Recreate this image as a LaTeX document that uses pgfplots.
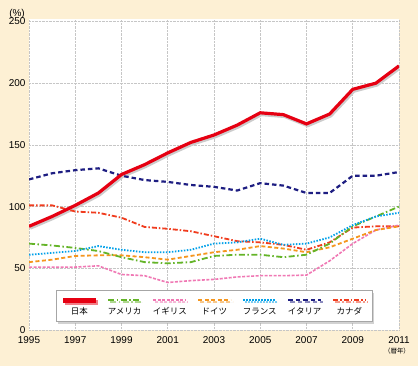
\documentclass[border=0pt]{standalone}
\usepackage{fontspec}
\setmainfont{Liberation Sans}
\newfontfamily\jp{Noto Sans CJK JP}
\usepackage{pgfplots}
\pgfplotsset{compat=1.18}
\usepackage{pgfplotstable}
\usetikzlibrary{shadows}

\definecolor{bgc}{RGB}{253,240,212}
\definecolor{jpc}{RGB}{230,0,18}
\definecolor{usc}{RGB}{100,180,40}
\definecolor{ukc}{RGB}{240,120,180}
\definecolor{dec}{RGB}{245,150,30}
\definecolor{frc}{RGB}{0,160,233}
\definecolor{itc}{RGB}{30,30,130}
\definecolor{cac}{RGB}{240,60,30}

\pgfplotstableread{
year jp us uk de fr it ca
1995 84 70 51 55 61 122 101
1996 92 68.5 51 57 62.5 127 101
1997 101 66.5 51 60 64 129.5 96
1998 111 64 52 60.5 68 131 95
1999 126 59 45 60.5 65 125 91
2000 134 55 44 59 63 121.5 83.5
2001 143.5 54 38.5 57 63 120 82
2002 152 55 40 60 65 117.5 80
2003 158 60 41 63 70 116 76
2004 166 61 43 65 71 113 72
2005 176 61 44 68 74 119 71
2006 174.5 59 44 66 69 117 69
2007 167 61 44.5 63 70 111 65
2008 175 70 56 67 75 111 71
2009 195 84 70 74 85 125 83
2010 200 92 81 81 92 125 84
2011 214 100 85 84 95 128 84
}\data

\pgfplotsset{
 sjp/.style={color=jpc, line width=3.2bp, solid},
 sus/.style={color=usc, line width=1.8bp, dash pattern=on 6bp off 2.5bp on 1.5bp off 2.5bp},
 suk/.style={color=ukc, line width=1.6bp, dash pattern=on 3bp off 1.5bp},
 sde/.style={color=dec, line width=1.8bp, dash pattern=on 4bp off 2.5bp},
 sfr/.style={color=frc, line width=1.8bp, dash pattern=on 1.5bp off 1.5bp},
 sit/.style={color=itc, line width=2.2bp, dash pattern=on 4.5bp off 3bp},
 sca/.style={color=cac, line width=1.8bp, dash pattern=on 5bp off 2bp on 1.5bp off 2bp},
}

\begin{document}
\begin{tikzpicture}
\fill[bgc] (0,0) rectangle (418bp,366bp);
\begin{axis}[
  at={(29bp,36bp)}, anchor=south west,
  scale only axis, width=370bp, height=311bp,
  xmin=1995, xmax=2011, ymin=0, ymax=252,
  xtick={1995,1997,...,2011}, ytick={0,50,...,250},
  grid=major,
  grid style={densely dotted, gray!45, line width=0.6bp},
  axis line style={draw=none}, tick style={draw=none},
  axis background/.style={fill=white},
  /pgf/number format/assume math mode=true,
  /pgf/number format/1000 sep={},
  tick label style={font=\fontsize{10}{12}\selectfont},
  xticklabel style={yshift=-3bp},
  legend columns=7,
  legend image code/.code={\draw[#1,overlay] (0.5bp,6bp) -- (33bp,6bp);},
  legend style={at={(0.073,0.0257)}, anchor=south west,
    draw=gray!70, line width=0.8bp, fill=white,
    drop shadow={shadow xshift=2bp, shadow yshift=-2bp, fill=black!35},
    inner xsep=6.5bp, inner ysep=6bp,
    font=\jp\fontsize{8.5}{10}\selectfont,
    nodes={inner sep=0pt, text width=33bp, align=center, text height=18bp, text depth=1bp},
    /tikz/every odd column/.style={column sep=0pt},
    /tikz/every even column/.style={column sep=12bp}},
]
\addlegendimage{sjp, line width=5bp}
\addlegendimage{sus}
\addlegendimage{suk}
\addlegendimage{sde}
\addlegendimage{sfr}
\addlegendimage{sit}
\addlegendimage{sca}
\legend{日本,アメリカ,イギリス,ドイツ,フランス,イタリア,カナダ}

\addplot[forget plot, black!20, line width=3.2bp, transform canvas={xshift=1.2bp, yshift=-1.8bp}] table[x=year,y=jp]{\data};
\addplot[forget plot, sit] table[x=year,y=it]{\data};
\addplot[forget plot, sca] table[x=year,y=ca]{\data};
\addplot[forget plot, suk] table[x=year,y=uk]{\data};
\addplot[forget plot, sde] table[x=year,y=de]{\data};
\addplot[forget plot, sus] table[x=year,y=us]{\data};
\addplot[forget plot, sfr] table[x=year,y=fr]{\data};
\addplot[forget plot, sjp] table[x=year,y=jp]{\data};
\end{axis}
\node[font=\fontsize{10}{12}\selectfont] at (17bp,352.5bp) {(\%)};
\node[font=\jp\fontsize{6.5}{8}\selectfont] at (397bp,14.5bp) {（暦年）};
\end{tikzpicture}
\end{document}
